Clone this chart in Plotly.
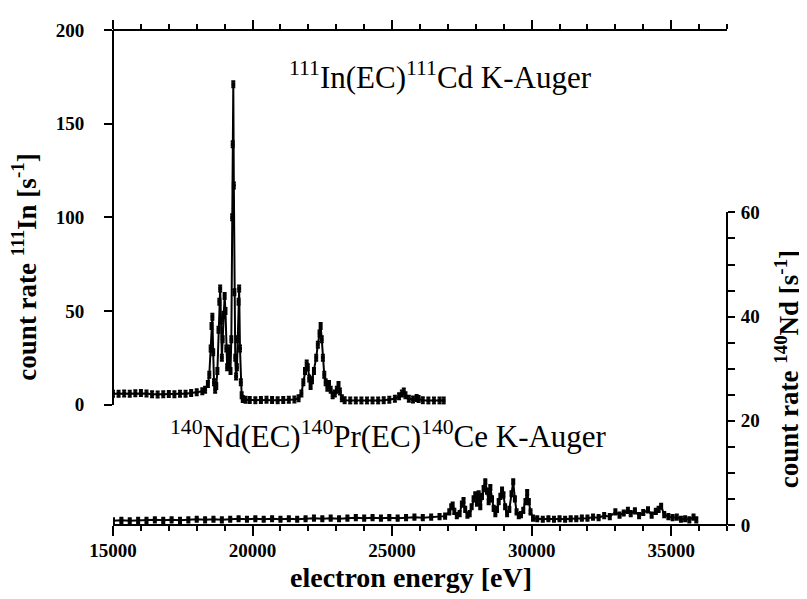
import plotly.graph_objects as go

# ---- 111In spectrum (left axis) ----
in_energy = [15000, 15200, 15400, 15600, 15800, 16000, 16200, 16400, 16600, 16800, 17000, 17200, 17400, 17600, 17800,
             18000, 18200, 18300, 18400, 18450, 18500, 18530, 18560, 18590, 18620, 18660, 18700, 18740, 18780, 18810,
             18840, 18870, 18900, 18930, 18960, 19000, 19030, 19060, 19090, 19120, 19150, 19180, 19210, 19240, 19270,
             19290, 19310, 19330, 19350, 19380, 19410, 19440, 19470, 19500, 19520, 19550, 19580, 19610, 19650, 19750,
             19900, 20100, 20300, 20500, 20700, 20900, 21100, 21300, 21500, 21650, 21750, 21820, 21880, 21940, 21980,
             22030, 22080, 22130, 22200, 22280, 22340, 22400, 22440, 22480, 22520, 22570, 22620, 22680, 22740, 22800,
             22870, 22950, 23020, 23080, 23130, 23200, 23300, 23500, 23700, 23900, 24100, 24300, 24500, 24700, 24900,
             25100, 25250, 25350, 25420, 25480, 25600, 25750, 25880, 25950, 26100, 26300, 26500, 26700, 26850]
in_rate = [5.8, 5.9, 6.0, 5.8, 6.1, 6.3, 6.0, 5.6, 5.5, 5.6, 5.7, 5.6, 5.8, 5.9, 6.2,
           6.6, 7.2, 8.0, 11, 16, 30, 42, 47, 28, 12, 8, 10, 18, 40, 55,
           62, 45, 25, 35, 48, 58, 50, 30, 20, 28, 22, 30, 18, 35, 100,
           139, 171, 117, 60, 25, 15, 20, 35, 55, 62, 30, 12, 5, 3.0, 2.6,
           2.5, 2.4, 2.5, 2.6, 2.5, 2.4, 2.5, 2.6, 2.8, 3.5, 6, 12, 18, 22, 20,
           14, 10, 13, 18, 25, 32, 38, 42, 35, 25, 16, 12, 9, 11, 8,
           5, 6, 8, 10.5, 7, 3.5, 2.4, 2.2, 2.2, 2.3, 2.2, 2.2, 2.3, 2.4, 2.6,
           3.2, 4.5, 6, 7, 5, 3.2, 2.8, 3.6, 3.0, 2.4, 2.2, 2.2, 2.3, 2.2]

# ---- 140Nd spectrum (right axis) ----
nd_energy = [15000, 15300, 15600, 15900, 16200, 16500, 16800, 17100, 17400, 17700, 18000, 18300, 18600, 18900, 19200,
             19500, 19800, 20100, 20400, 20700, 21000, 21300, 21600, 21900, 22200, 22500, 22800, 23100, 23400, 23700,
             24000, 24300, 24600, 24900, 25200, 25500, 25800, 26100, 26400, 26700, 26900, 27050, 27120, 27170, 27230,
             27320, 27420, 27500, 27560, 27620, 27700, 27780, 27850, 27920, 27980, 28040, 28100, 28160, 28220, 28280,
             28340, 28400, 28460, 28520, 28580, 28640, 28700, 28760, 28820, 28880, 28940, 28990, 29050, 29120, 29200,
             29280, 29340, 29400, 29460, 29540, 29620, 29700, 29780, 29840, 29900, 29960, 30050, 30200, 30400, 30600,
             30800, 31000, 31200, 31400, 31600, 31800, 32000, 32200, 32400, 32600, 32800, 33000, 33150, 33300, 33450,
             33550, 33700, 33850, 34000, 34170, 34300, 34450, 34550, 34640, 34750, 34900, 35050, 35200, 35350, 35500,
             35650, 35800, 35900]
nd_rate = [0.8, 0.9, 0.8, 0.9, 0.9, 1.0, 0.9, 1.0, 0.9, 1.0, 1.1, 1.0, 1.1, 1.0, 1.1,
           1.2, 1.1, 1.2, 1.1, 1.2, 1.1, 1.2, 1.1, 1.2, 1.3, 1.2, 1.3, 1.2, 1.3, 1.4,
           1.3, 1.4, 1.3, 1.4, 1.3, 1.4, 1.5, 1.4, 1.5, 1.6, 1.7, 2.5, 3.5, 3.8, 2.6,
           1.8, 2.2, 4.0, 4.7, 3.0, 1.9, 2.2, 3.5, 5.0, 5.8, 4.2, 6.0, 3.5, 5.5, 7.0,
           8.3, 6.5, 4.5, 7.2, 5.0, 3.2, 2.2, 3.0, 4.5, 5.5, 6.7, 5.8, 3.5, 2.2, 3.0,
           6.0, 8.3, 5.0, 2.5, 1.8, 2.0, 2.8, 4.5, 6.2, 4.5, 2.5, 1.3, 1.2, 1.1, 1.2,
           1.1, 1.2, 1.1, 1.2, 1.2, 1.3, 1.3, 1.5, 1.4, 1.8, 1.6, 2.5, 1.9, 2.3, 2.8,
           2.2, 2.7, 1.8, 2.4, 2.9, 1.9, 2.6, 3.0, 3.6, 2.0, 1.6, 1.4, 1.5, 1.1, 1.2,
           1.0, 1.5, 1.0]

# ---- tick labels ----
x_tickvals = [15000, 20000, 25000, 30000, 35000]
x_ticklabels = ["15000", "20000", "25000", "30000", "35000"]
in_tickvals = [0, 50, 100, 150, 200]
in_ticklabels = ["0", "50", "100", "150", "200"]
nd_tickvals = [0, 20, 40, 60]
nd_ticklabels = ["0", "20", "40", "60"]

SERIF = "Liberation Serif"
L, R, T, B = 105, 88, 15, 82
W, H = 807, 599
PW, PH = W - L - R, H - T - B


def px2paper(px, py):
    return (px - L) / PW, (H - B - py) / PH


def bold(labels):
    return ["<b>%s</b>" % s for s in labels]


fig = go.Figure()

fig.add_trace(go.Scatter(
    x=in_energy, y=in_rate, xaxis="x", yaxis="y", mode="lines+markers",
    line=dict(color="black", width=2),
    marker=dict(color="black", size=4, symbol="square"),
    error_y=dict(type="constant", value=1.6, color="black", thickness=2, width=2),
    showlegend=False, hoverinfo="skip"))

fig.add_trace(go.Scatter(
    x=nd_energy, y=nd_rate, xaxis="x", yaxis="y2", mode="lines+markers",
    line=dict(color="black", width=2),
    marker=dict(color="black", size=4, symbol="square"),
    error_y=dict(type="constant", value=0.5, color="black", thickness=2, width=2),
    showlegend=False, hoverinfo="skip"))

# empty trace so the top axis is drawn
fig.add_trace(go.Scatter(x=[], y=[], xaxis="x2", yaxis="y", showlegend=False, hoverinfo="skip"))

tickfont = dict(family=SERIF, size=19, color="black")

fig.update_layout(
    width=W, height=H,
    margin=dict(l=L, r=R, t=T, b=B),
    font=dict(family=SERIF, color="black"),
    paper_bgcolor="white", plot_bgcolor="rgba(0,0,0,0)",
    xaxis=dict(range=[15000, 37000], domain=[0, 1], anchor="free", position=0,
               showline=True, linecolor="black", linewidth=2, showgrid=False, zeroline=False,
               ticks="outside", ticklen=10, tickwidth=2, tickcolor="black",
               tickmode="array", tickvals=x_tickvals, ticktext=bold(x_ticklabels),
               minor=dict(dtick=1000, tick0=15000, ticks="outside", ticklen=5, tickwidth=2,
                          tickcolor="black", showgrid=False),
               tickfont=tickfont, ticklabelstandoff=-2),
    xaxis2=dict(range=[15000, 37000], overlaying="x", side="top", anchor="free", position=1,
                showline=True, linecolor="black", linewidth=2, showgrid=False, zeroline=False,
                ticks="outside", ticklen=9, tickwidth=2, tickcolor="black", dtick=5000, tick0=15000,
                minor=dict(dtick=1000, ticks="outside", ticklen=5, tickwidth=2, tickcolor="black", showgrid=False),
                showticklabels=False),
    yaxis=dict(range=[0, 200], domain=[(517 - 395) / PH, 1], anchor="free", position=0,
               showline=True, linecolor="black", linewidth=2, showgrid=False, zeroline=False,
               ticks="outside", ticklen=8, tickwidth=2, tickcolor="black",
               tickmode="array", tickvals=in_tickvals, ticktext=bold(in_ticklabels),
               tickfont=tickfont, ticklabelstandoff=16),
    yaxis2=dict(range=[0, 60], domain=[0, (517 - 200) / PH], anchor="free", position=1, side="right",
                showline=True, linecolor="black", linewidth=2, showgrid=False, zeroline=False,
                ticks="outside", ticklen=7, tickwidth=2, tickcolor="black",
                tickmode="array", tickvals=nd_tickvals, ticktext=bold(nd_ticklabels),
                minor=dict(dtick=5, tick0=0, ticks="outside", ticklen=7, tickwidth=2, tickcolor="black",
                           showgrid=False),
                tickfont=tickfont, ticklabelstandoff=2),
)

annos = [
    ("<sup>111</sup>In(EC)<sup>111</sup>Cd K-Auger", 432, 61, 0, dict(family=SERIF, size=31, color="black")),
    ("<sup>140</sup>Nd(EC)<sup>140</sup>Pr(EC)<sup>140</sup>Ce K-Auger", 380, 425, 0, dict(family=SERIF, size=31, color="black")),
    ("<b>count rate <sup>111</sup>In [s<sup>-1</sup>]</b>", 16, 256, -90, dict(family=SERIF, size=27, color="black")),
    ("<b>count rate <sup>140</sup>Nd [s<sup>-1</sup>]</b>", 779, 359, -90, dict(family=SERIF, size=27, color="black")),
    ("<b>electron energy [eV]</b>", 403, 570, 0, dict(family=SERIF, size=28, color="black")),
]
for text, px, py, ang, font in annos:
    ax_, ay_ = px2paper(px, py)
    fig.add_annotation(text=text, x=ax_, y=ay_, xref="paper", yref="paper",
                       xanchor="center", yanchor="middle", showarrow=False,
                       textangle=ang, font=font)

fig.write_html("out.html")
